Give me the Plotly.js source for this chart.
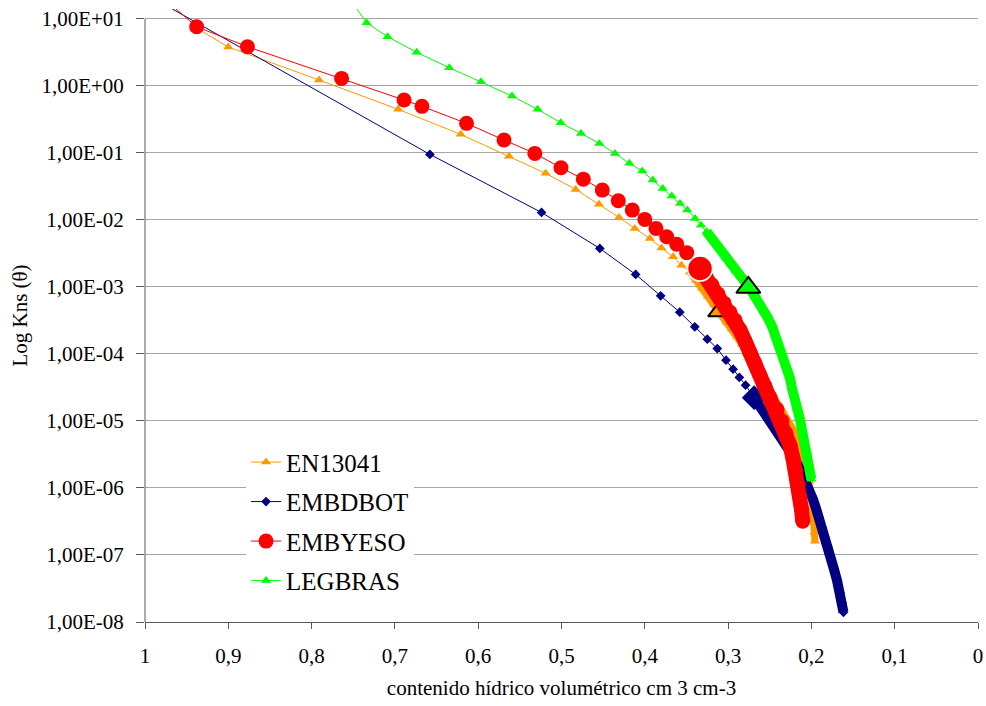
<!DOCTYPE html>
<html>
<head>
<meta charset="utf-8">
<script src="https://cdn.plot.ly/plotly-3.0.1.min.js"></script>
<style>
html,body{margin:0;padding:0;background:#fff;}
#chart{width:986px;height:706px;}
</style>
</head>
<body>
<div id="chart"></div>
<script>
// ---- Data (θ in cm3/cm3, K as log10 values) ----
const seriesNames = ["EN13041", "EMBDBOT", "EMBYESO", "LEGBRAS"];

const theta_EN13041 = [0.940, 0.900, 0.791, 0.696, 0.621, 0.563, 0.519, 0.483, 0.455, 0.431, 0.412, 0.394, 0.380, 0.366, 0.356,
  0.3457, 0.3385, 0.3313, 0.3241, 0.3169, 0.3097, 0.3013, 0.2953, 0.2893, 0.2833, 0.2773, 0.2713, 0.2653, 0.2593, 0.2533,
  0.2473, 0.2413, 0.2353, 0.2293, 0.2233, 0.2173, 0.2125, 0.2089, 0.2053, 0.2029, 0.2005, 0.1987, 0.1975, 0.1963, 0.1957];
const logK_EN13041 = [0.875, 0.578, 0.085, -0.352, -0.725, -1.05, -1.307, -1.546, -1.766, -1.964, -2.128, -2.278, -2.42, -2.55, -2.676,
  -2.78, -2.90, -3.02, -3.14, -3.26, -3.38, -3.527, -3.631, -3.736, -3.855, -3.975, -4.094, -4.213, -4.348, -4.467,
  -4.587, -4.721, -4.840, -4.975, -5.094, -5.228, -5.378, -5.542, -5.721, -5.900, -6.094, -6.288, -6.482, -6.661, -6.795];
const denseFrom_EN13041 = 15;

const theta_EMBDBOT = [0.985, 0.658, 0.524, 0.454, 0.411, 0.381, 0.358, 0.340, 0.325, 0.313, 0.3025, 0.294, 0.2865, 0.279, 0.2687,
  0.2617, 0.2557, 0.2497, 0.2437, 0.2377, 0.2317, 0.2257, 0.2197, 0.2137, 0.2077, 0.2029, 0.1981, 0.1945, 0.1909, 0.1873,
  0.1837, 0.1801, 0.1765, 0.1729, 0.1693, 0.1657, 0.1633, 0.1615];
const logK_EMBDBOT = [1.27, -1.024, -1.89, -2.427, -2.815, -3.134, -3.378, -3.597, -3.78, -3.92, -4.094, -4.228, -4.352, -4.467, -4.654,
  -4.781, -4.884, -4.975, -5.079, -5.184, -5.303, -5.437, -5.572, -5.721, -5.870, -6.019, -6.169, -6.303, -6.437, -6.586,
  -6.736, -6.885, -7.049, -7.213, -7.377, -7.557, -7.706, -7.855];
const denseFrom_EMBDBOT = 14;

const theta_EMBYESO = [0.980, 0.938, 0.877, 0.764, 0.689, 0.6675, 0.614, 0.569, 0.532, 0.5006, 0.4738, 0.451, 0.4318, 0.415, 0.400,
  0.3866, 0.3737, 0.3617, 0.3497, 0.3337,
  0.3265, 0.3193, 0.3121, 0.3049, 0.2977, 0.2917, 0.2857, 0.2797, 0.2737, 0.2677, 0.2617, 0.2557, 0.2497, 0.2413, 0.2353,
  0.2305, 0.2257, 0.2221, 0.2185, 0.2161, 0.2137, 0.2119, 0.2104];
const logK_EMBYESO = [1.33, 0.88, 0.582, 0.11, -0.213, -0.307, -0.561, -0.81, -1.009, -1.224, -1.393, -1.557, -1.716, -1.855, -1.994,
  -2.128, -2.253, -2.363, -2.49, -2.727,
  -2.855, -2.974, -3.109, -3.243, -3.378, -3.497, -3.646, -3.810, -3.975, -4.139, -4.318, -4.482, -4.646, -4.825, -5.004,
  -5.184, -5.363, -5.557, -5.751, -5.945, -6.139, -6.318, -6.497];
const denseFrom_EMBYESO = 19;

const theta_LEGBRAS = [0.760, 0.734, 0.7087, 0.6738, 0.6347, 0.5966, 0.5594, 0.5286, 0.5009, 0.4766, 0.4546, 0.4358, 0.4186, 0.403,
  0.3905, 0.3785, 0.3677, 0.3577, 0.349, 0.3397, 0.3325, 0.3257,
  0.3205, 0.3145, 0.3085, 0.3025, 0.2965, 0.2905, 0.2845, 0.2785, 0.2725, 0.2665, 0.2617, 0.2569, 0.2521, 0.2473, 0.2437,
  0.2401, 0.2365, 0.2329, 0.2293, 0.2257, 0.2233, 0.2197, 0.2173, 0.2137, 0.2113, 0.2089, 0.2053, 0.2029, 0.2011, 0.2001];
const logK_LEGBRAS = [1.40, 0.94, 0.731, 0.498, 0.269, 0.06, -0.154, -0.352, -0.552, -0.711, -0.86, -1.009, -1.158, -1.273,
  -1.407, -1.532, -1.646, -1.755, -1.855, -1.98, -2.08, -2.179,
  -2.258, -2.348, -2.452, -2.557, -2.661, -2.766, -2.855, -2.945, -3.049, -3.154, -3.258, -3.363, -3.467, -3.587, -3.706,
  -3.825, -3.945, -4.079, -4.213, -4.363, -4.512, -4.661, -4.810, -4.975, -5.139, -5.303, -5.467, -5.631, -5.766, -5.870];
const denseFrom_LEGBRAS = 21;

// highlighted points (one per series, same order as seriesNames)
const highlight_theta = [0.313, 0.2687, 0.3337, 0.2757];
const highlight_logK = [-3.38, -4.654, -2.727, -3.01];

// tick labels
const xTickVals = [0, 0.1, 0.2, 0.3, 0.4, 0.5, 0.6, 0.7, 0.8, 0.9, 1];
const xTickText = ["0", "0,1", "0,2", "0,3", "0,4", "0,5", "0,6", "0,7", "0,8", "0,9", "1"];
const yTickVals = [-8, -7, -6, -5, -4, -3, -2, -1, 0, 1];
const yTickText = ["1,00E-08", "1,00E-07", "1,00E-06", "1,00E-05", "1,00E-04", "1,00E-03", "1,00E-02", "1,00E-01", "1,00E+00", "1,00E+01"];

// ---- Styles ----
const thetas = [theta_EN13041, theta_EMBDBOT, theta_EMBYESO, theta_LEGBRAS];
const logKs = [logK_EN13041, logK_EMBDBOT, logK_EMBYESO, logK_LEGBRAS];
const denseFrom = [denseFrom_EN13041, denseFrom_EMBDBOT, denseFrom_EMBYESO, denseFrom_LEGBRAS];
const styles = [
  {color: "#FF9900", symbol: "triangle-up", size: 9, band: 7, hl: {size: 16, symbol: "triangle-up", color: "#FF9900", lc: "#000000", lw: 2}},
  {color: "#000080", symbol: "diamond", size: 7.5, band: 10, hl: {size: 19, symbol: "diamond", color: "#000080", lc: "#000080", lw: 0}},
  {color: "#FF0000", symbol: "circle", size: 15, band: 15, hl: {size: 25, symbol: "circle", color: "#FF0000", lc: "#FFFFFF", lw: 1.5}},
  {color: "#00FF00", symbol: "triangle-up", size: 9, band: 10, hl: {size: 21, symbol: "triangle-up", color: "#00FF00", lc: "#000000", lw: 2}}
];

const traces = [];
seriesNames.forEach((name, i) => {
  const st = styles[i];
  const d = denseFrom[i];
  traces.push({
    x: thetas[i].slice(d), y: logKs[i].slice(d),
    type: "scatter", mode: "lines", showlegend: false, hoverinfo: "skip",
    legendgroup: name,
    line: {color: st.color, width: st.band}
  });
  traces.push({
    x: thetas[i], y: logKs[i], name: name,
    type: "scatter", mode: "lines+markers", legendgroup: name,
    line: {color: st.color, width: 1},
    marker: {color: st.color, symbol: st.symbol, size: st.size, line: {width: 0}}
  });
  traces.push({
    x: [highlight_theta[i]], y: [highlight_logK[i]],
    type: "scatter", mode: "markers", showlegend: false, legendgroup: name,
    marker: {color: st.hl.color, symbol: st.hl.symbol, size: st.hl.size, line: {color: st.hl.lc, width: st.hl.lw}}
  });
});

const fontFam = "Liberation Serif";
const axisCol = "#595959";

const layout = {
  width: 986, height: 706,
  margin: {l: 145, r: 8, t: 9, b: 84},
  paper_bgcolor: "#ffffff", plot_bgcolor: "#ffffff",
  font: {family: fontFam, size: 21, color: "#000000"},
  showlegend: true,
  legend: {
    x: 0.1213, y: 0.298, xanchor: "left", yanchor: "top",
    bgcolor: "#ffffff", borderwidth: 0,
    font: {family: fontFam, size: 25, color: "#000000"},
    traceorder: "grouped", tracegroupgap: 4
  },
  xaxis: {
    range: [1, 0], tickmode: "array", tickvals: xTickVals, ticktext: xTickText,
    showgrid: false, zeroline: false, showline: true, linecolor: axisCol, linewidth: 1,
    ticks: "outside", ticklen: 6, tickcolor: axisCol, tickwidth: 1,
    tickfont: {family: fontFam, size: 21}, ticklabelstandoff: 9,
    title: {text: "contenido hídrico volumétrico cm 3 cm-3", font: {family: fontFam, size: 21}}
  },
  yaxis: {
    range: [-8, 1.145], tickmode: "array", tickvals: yTickVals, ticktext: yTickText,
    showgrid: true, gridcolor: "#a6a6a6", gridwidth: 1, zeroline: false, showline: false,
    ticks: "outside", ticklen: 8, tickcolor: axisCol, tickwidth: 1,
    tickfont: {family: fontFam, size: 21}, ticklabelstandoff: 8,
    automargin: true,
    title: {text: "Log Kns (θ)", font: {family: fontFam, size: 21}, standoff: 8}
  },
  shapes: [
    {type: "line", xref: "paper", yref: "y", x0: 0, x1: 0, y0: -8, y1: 1, line: {color: axisCol, width: 1}}
  ]
};

Plotly.newPlot("chart", traces, layout, {displayModeBar: false, staticPlot: true});
</script>
</body>
</html>
